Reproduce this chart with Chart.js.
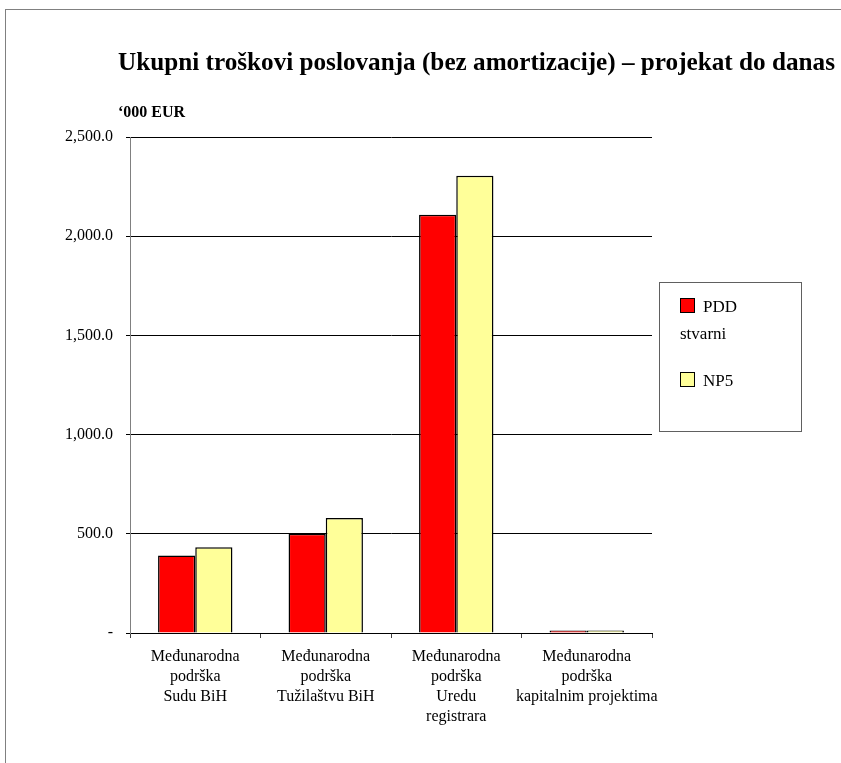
<!DOCTYPE html>
<html>
<head>
<meta charset="utf-8">
<script src="https://cdn.jsdelivr.net/npm/chart.js@4.4.1/dist/chart.umd.min.js"></script>
<style>
  body { margin: 0; background: #fff; font-family: 'Liberation Serif', 'Times New Roman', serif; }
  #wrap { position: relative; width: 841px; height: 763px; }
  #frame { position: absolute; left: 5px; top: 9px; right: 0; bottom: 0; border-top: 1px solid #808080; border-left: 1px solid #808080; }
  #title { position: absolute; left: 118px; top: 47px; font-weight: bold; font-size: 25.2px; white-space: nowrap; line-height: 30px; }
  #unit { position: absolute; left: 118px; top: 102px; font-weight: bold; font-size: 16px; line-height: 20px; }
  #legend { position: absolute; left: 659px; top: 282px; border: 1px solid #606060; padding: 10px 0 0 20px; box-sizing: border-box; width: 143px; height: 150px; }
  .item { font-size: 17px; line-height: 27px; max-width: 90px; margin-bottom: 20px; }
  .sw { display: inline-block; width: 13px; height: 13px; border: 1px solid #000; margin-right: 8px; vertical-align: -1px; }
  canvas { position: absolute; left: 0; top: 0; }
</style>
</head>
<body>
<div id="wrap">
  <div id="frame"></div>
  <canvas id="troskoviChart"></canvas>
  <div id="title">Ukupni troškovi poslovanja (bez amortizacije) – projekat do danas</div>
  <div id="unit">‘000 EUR</div>
  <div id="legend"></div>
</div>
<script>
// Podaci
const kategorije = [
    ['Međunarodna', 'podrška', 'Sudu BiH'],
    ['Međunarodna', 'podrška', 'Tužilaštvu BiH'],
    ['Međunarodna', 'podrška', 'Uredu', 'registrara'],
    ['Međunarodna', 'podrška', 'kapitalnim projektima']
];
const pddStvarni = [391, 500, 2108, 13];
const np5 = [432, 580, 2305, 12];
const yTicks = [0, 500, 1000, 1500, 2000, 2500];

Chart.defaults.font.family = "'Liberation Serif', 'Times New Roman', serif";
Chart.defaults.font.size = 16;
Chart.defaults.color = '#000';

const ctx = document.getElementById('troskoviChart').getContext('2d');
const chart = new Chart(ctx, {
    type: 'bar',
    data: {
        labels: kategorije,
        datasets: [
            {
                label: 'PDD stvarni',
                data: pddStvarni,
                backgroundColor: '#ff0000',
                borderColor: '#000',
                borderWidth: 1.5
            },
            {
                label: 'NP5',
                data: np5,
                backgroundColor: '#ffff99',
                borderColor: '#000',
                borderWidth: 1.5
            }
        ]
    },
    options: {
        responsive: true,
        maintainAspectRatio: false,
        animation: false,
        layout: {
            padding: { left: 63, right: 189, top: 137, bottom: 27 }
        },
        plugins: {
            legend: { display: false },
            tooltip: { enabled: false }
        },
        datasets: {
            bar: { categoryPercentage: 0.57, barPercentage: 1 }
        },
        scales: {
            x: {
                grid: {
                    offset: true,
                    drawOnChartArea: false,
                    tickLength: 5,
                    color: '#404040'
                },
                border: { color: '#000' },
                ticks: { padding: 9, maxRotation: 0, autoSkip: false, font: { size: 16, lineHeight: 1.25 } }
            },
            y: {
                min: 0,
                max: 2500,
                afterFit: function (scale) { scale.width = 67; },
                afterBuildTicks: function (scale) { scale.ticks = yTicks.map(v => ({ value: v })); },
                grid: { color: '#000', tickLength: 4 },
                border: { color: '#808080' },
                ticks: {
                    padding: 13,
                    callback: function (v) {
                        return v === 0 ? '-' : v.toLocaleString('en-US', { minimumFractionDigits: 1, maximumFractionDigits: 1 });
                    }
                }
            }
        }
    }
});

// HTML legenda
const legend = document.getElementById('legend');
chart.data.datasets.forEach(ds => {
    const it = document.createElement('div');
    it.className = 'item';
    it.innerHTML = '<span class="sw" style="background:' + ds.backgroundColor + '"></span>' + ds.label;
    legend.appendChild(it);
});
</script>
</body>
</html>
